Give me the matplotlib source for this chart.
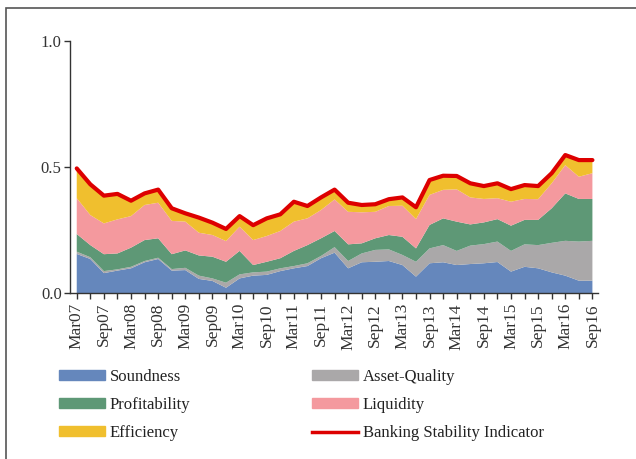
import numpy as np
import matplotlib.pyplot as plt
from matplotlib.patches import Rectangle, Patch
from matplotlib.lines import Line2D

plt.rcParams['font.family'] = ['Liberation Serif', 'DejaVu Serif']

# quarterly observations, Mar07 .. Sep16
quarters = ["Mar07", "Jun07", "Sep07", "Dec07", "Mar08", "Jun08", "Sep08", "Dec08",
            "Mar09", "Jun09", "Sep09", "Dec09", "Mar10", "Jun10", "Sep10", "Dec10",
            "Mar11", "Jun11", "Sep11", "Dec11", "Mar12", "Jun12", "Sep12", "Dec12",
            "Mar13", "Jun13", "Sep13", "Dec13", "Mar14", "Jun14", "Sep14", "Dec14",
            "Mar15", "Jun15", "Sep15", "Dec15", "Mar16", "Jun16", "Sep16"]

soundness = [0.156, 0.136, 0.080, 0.090, 0.099, 0.123, 0.136, 0.090, 0.092, 0.057,
             0.049, 0.022, 0.059, 0.070, 0.073, 0.088, 0.099, 0.108, 0.139, 0.161,
             0.099, 0.123, 0.125, 0.128, 0.112, 0.066, 0.119, 0.123, 0.112, 0.116,
             0.119, 0.124, 0.086, 0.105, 0.099, 0.083, 0.070, 0.050, 0.050]
asset_quality = [0.009, 0.007, 0.008, 0.005, 0.006, 0.005, 0.005, 0.006, 0.009, 0.013,
                 0.010, 0.020, 0.016, 0.013, 0.013, 0.011, 0.009, 0.011, 0.009, 0.022,
                 0.029, 0.035, 0.047, 0.046, 0.040, 0.059, 0.059, 0.068, 0.056, 0.073,
                 0.076, 0.081, 0.082, 0.089, 0.092, 0.117, 0.138, 0.155, 0.158]
profitability = [0.070, 0.048, 0.067, 0.063, 0.076, 0.083, 0.077, 0.059, 0.069, 0.080,
                 0.086, 0.083, 0.093, 0.029, 0.039, 0.040, 0.060, 0.072, 0.070, 0.064,
                 0.066, 0.040, 0.046, 0.057, 0.072, 0.053, 0.093, 0.106, 0.116, 0.084,
                 0.086, 0.089, 0.100, 0.097, 0.100, 0.137, 0.188, 0.169, 0.166]
liquidity = [0.142, 0.119, 0.122, 0.135, 0.125, 0.139, 0.141, 0.132, 0.114, 0.090,
             0.086, 0.082, 0.096, 0.099, 0.102, 0.108, 0.116, 0.106, 0.112, 0.125,
             0.129, 0.123, 0.105, 0.115, 0.123, 0.116, 0.119, 0.113, 0.128, 0.107,
             0.093, 0.083, 0.095, 0.083, 0.082, 0.099, 0.112, 0.088, 0.102]
efficiency = [0.118, 0.122, 0.110, 0.101, 0.061, 0.046, 0.052, 0.050, 0.033, 0.060,
              0.049, 0.048, 0.042, 0.059, 0.070, 0.066, 0.079, 0.049, 0.050, 0.039,
              0.036, 0.029, 0.030, 0.027, 0.033, 0.047, 0.059, 0.056, 0.053, 0.056,
              0.051, 0.059, 0.050, 0.055, 0.052, 0.040, 0.040, 0.066, 0.052]

names = ["Soundness", "Asset-Quality", "Profitability", "Liquidity", "Efficiency"]
colors = ["#6587BC", "#AAA8A9", "#5E9876", "#F4999E", "#F0BF2E"]
red = "#DD0000"

fig = plt.figure(figsize=(6.36, 4.59), dpi=100)
ax = fig.add_axes([0.110, 0.361, 0.830, 0.5497])

x = np.arange(len(quarters))
series = [soundness, asset_quality, profitability, liquidity, efficiency]
ax.stackplot(x, *series, colors=colors, linewidth=0)
bsi = np.sum(series, axis=0)  # banking stability indicator = sum of components
ax.plot(x, bsi, color=red, lw=3, solid_joinstyle='round', solid_capstyle='round')

ax.set_xlim(-0.5, 38.4)
ax.set_ylim(0, 1.0)
ax.set_yticks([0, 0.5, 1.0])
ax.set_yticklabels(["0.0", "0.5", "1.0"])
ax.set_xticks(x)
ax.set_xticklabels([q if i % 2 == 0 else "" for i, q in enumerate(quarters)], rotation=90)

for s in ["top", "right"]:
    ax.spines[s].set_visible(False)
for s in ["left", "bottom"]:
    ax.spines[s].set_color("#333333")
    ax.spines[s].set_linewidth(1.0)
ax.tick_params(axis="both", direction="out", length=4, width=1, color="#333333",
               labelsize=12, labelcolor="#333333")
ax.tick_params(axis="x", pad=3, labelsize=12.5)
ax.tick_params(axis="y", pad=2)

# legend, two columns
h = [Patch(color=c) for c in colors]
line = Line2D([], [], color=red, lw=2.5)
kw = dict(frameon=False, fontsize=12, handlelength=2.75, handleheight=0.5,
          handletextpad=0.3, labelspacing=0.72, borderpad=0, borderaxespad=0,
          loc="upper left")
leg1 = fig.legend([h[0], h[2], h[4]], [names[0], names[2], names[4]],
                  bbox_to_anchor=(59 / 636, 1 - 369 / 459), **kw)
leg2 = fig.legend([h[1], h[3], line], [names[1], names[3], "Banking Stability Indicator"],
                  bbox_to_anchor=(312 / 636, 1 - 369 / 459), **kw)
for leg in (leg1, leg2):
    for t in leg.get_texts():
        t.set_color("#222222")

# outer frame (runs off the right and bottom edges)
fig.patches.append(Rectangle((6 / 636, -0.1), 1.2, 0.1 + (459 - 8) / 459,
                             transform=fig.transFigure, fill=False,
                             edgecolor="#555555", lw=1.2))

fig.savefig("out.png", dpi=100)
